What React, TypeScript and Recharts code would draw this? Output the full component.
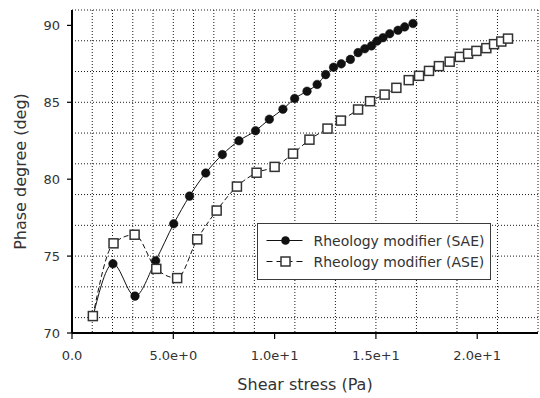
import React from "react";
import {
  LineChart,
  Line,
  XAxis,
  YAxis,
  CartesianGrid,
} from "recharts";

// Series: Rheology modifier (SAE)
const saeX = [1.04, 2.02, 3.11, 4.13, 5.02, 5.8, 6.6, 7.42, 8.24, 9.06, 9.74, 10.41, 10.99, 11.6, 12.1, 12.52, 12.91, 13.29, 13.74, 14.12, 14.45, 14.78, 15.06, 15.35, 15.68, 16.09, 16.42, 16.83];
const saeY = [71.1, 74.5, 72.4, 74.7, 77.1, 78.9, 80.4, 81.6, 82.5, 83.15, 83.9, 84.55, 85.25, 85.72, 86.16, 86.8, 87.28, 87.5, 87.79, 88.23, 88.48, 88.67, 88.98, 89.2, 89.46, 89.68, 89.9, 90.12];

// Series: Rheology modifier (ASE)
const aseX = [1.03, 2.05, 3.09, 4.16, 5.19, 6.18, 7.14, 8.14, 9.11, 10.0, 10.91, 11.72, 12.61, 13.27, 14.12, 14.71, 15.43, 16.01, 16.62, 17.13, 17.62, 18.11, 18.64, 19.14, 19.55, 19.96, 20.45, 20.83, 21.19, 21.52];
const aseY = [71.1, 75.83, 76.39, 74.17, 73.57, 76.09, 77.96, 79.52, 80.42, 80.8, 81.66, 82.57, 83.29, 83.81, 84.53, 85.07, 85.5, 85.94, 86.44, 86.72, 87.04, 87.35, 87.64, 87.95, 88.16, 88.34, 88.52, 88.78, 88.95, 89.14];

const seriesNames = ["Rheology modifier (SAE)", "Rheology modifier (ASE)"];

// Axis ticks
const xMajorTicks = [0, 5, 10, 15, 20];
const xMajorLabels = ["0.0", "5.0e+0", "1.0e+1", "1.5e+1", "2.0e+1"];
const yMajorTicks = [70, 75, 80, 85, 90];
const xGridTicks = [0, 1, 2, 3, 4, 5, 6, 7, 8, 9, 10, 11, 12, 13, 14, 15, 16, 17, 18, 19, 20, 21, 22, 23];
const yGridTicks = [70, 71, 72, 73, 74, 75, 76, 77, 78, 79, 80, 81, 82, 83, 84, 85, 86, 87, 88, 89, 90, 91];
const xDomain: [number, number] = [0, 23];
const yDomain: [number, number] = [70, 91];

const saeData = saeX.map((x, i) => ({ x, y: saeY[i] }));
const aseData = aseX.map((x, i) => ({ x, y: aseY[i] }));

const FONT = "'DejaVu Sans', Verdana, sans-serif";
const TEXT = "#333";

const SquareDot = (props: any) => {
  const { cx, cy } = props;
  if (cx == null || cy == null) return null;
  const s = 9;
  return (
    <rect
      x={cx - s / 2}
      y={cy - s / 2}
      width={s}
      height={s}
      fill="#fff"
      stroke="#333"
      strokeWidth={1.5}
    />
  );
};

const CircleDot = (props: any) => {
  const { cx, cy } = props;
  if (cx == null || cy == null) return null;
  return <circle cx={cx} cy={cy} r={4.3} fill="#111" stroke="#111" strokeWidth={0.5} />;
};

const LegendBox = () => (
  <div
    style={{
      position: "absolute",
      left: 257,
      top: 223,
      width: 234,
      height: 57,
      boxSizing: "border-box",
      border: "1.7px solid #3a3a3a",
      background: "#fff",
    }}
  >
    <svg width={231} height={54} style={{ display: "block" }}>
      <g transform="translate(-1.5,-1.5)">
        <line x1={10} x2={46} y1={18} y2={18} stroke="#111" strokeWidth={1.2} />
        <circle cx={29} cy={18} r={4.3} fill="#111" />
        <text x={57} y={18} dy="0.36em" fontFamily={FONT} fontSize={14} fill={TEXT}>
          {seriesNames[0]}
        </text>
        <line x1={10} x2={46} y1={39} y2={39} stroke="#111" strokeWidth={1.2} strokeDasharray="6 4" />
        <rect x={24.5} y={34.5} width={9} height={9} fill="#fff" stroke="#333" strokeWidth={1.5} />
        <text x={57} y={39} dy="0.36em" fontFamily={FONT} fontSize={14} fill={TEXT}>
          {seriesNames[1]}
        </text>
      </g>
    </svg>
  </div>
);

export default function App() {
  return (
    <div style={{ position: "absolute", left: 0, top: 0, width: 540, height: 398, background: "#fff" }}>
      <LineChart
        width={540}
        height={398}
        margin={{ top: 10, right: 2, bottom: 0, left: 0 }}
        style={{ fontFamily: FONT }}
      >
        <XAxis xAxisId="grid" type="number" dataKey="x" domain={xDomain} ticks={xGridTicks} hide allowDataOverflow />
        <YAxis yAxisId="grid" type="number" domain={yDomain} ticks={yGridTicks} hide allowDataOverflow />
        <CartesianGrid
          xAxisId="grid"
          yAxisId="grid"
          stroke="#1a1a1a"
          strokeDasharray="1 2"
          strokeWidth={1}
        />
        <XAxis
          type="number"
          dataKey="x"
          domain={xDomain}
          ticks={xMajorTicks}
          tickFormatter={(v: number) => xMajorLabels[xMajorTicks.indexOf(v)] ?? ""}
          height={65}
          tickSize={6}
          tickMargin={12}
          axisLine={{ stroke: "#000", strokeWidth: 2 }}
          tickLine={{ stroke: "#000", strokeWidth: 1.2 }}
          tick={{ fill: TEXT, fontSize: 13, fontFamily: FONT }}
          allowDataOverflow
          label={{
            value: "Shear stress (Pa)",
            position: "insideBottom",
            offset: 8,
            fill: TEXT,
            fontSize: 16,
            fontFamily: FONT,
          }}
        />
        <YAxis
          type="number"
          domain={yDomain}
          ticks={yMajorTicks}
          width={72}
          tickSize={5}
          tickMargin={7}
          axisLine={{ stroke: "#000", strokeWidth: 2 }}
          tickLine={{ stroke: "#000", strokeWidth: 1.2 }}
          tick={{ fill: TEXT, fontSize: 13, fontFamily: FONT }}
          allowDataOverflow
          label={{
            value: "Phase degree (deg)",
            angle: -90,
            position: "insideLeft",
            offset: 20,
            fill: TEXT,
            fontSize: 16,
            fontFamily: FONT,
            style: { textAnchor: "middle" },
          }}
        />
        <XAxis
          xAxisId="top"
          orientation="top"
          type="number"
          dataKey="x"
          domain={xDomain}
          height={0}
          tick={false}
          tickLine={false}
          axisLine={{ stroke: "#000", strokeWidth: 2 }}
          allowDataOverflow
        />
        <YAxis
          yAxisId="right"
          orientation="right"
          type="number"
          domain={yDomain}
          width={0}
          tick={false}
          tickLine={false}
          axisLine={{ stroke: "#000", strokeWidth: 2 }}
          allowDataOverflow
        />
        <Line
          data={saeData}
          dataKey="y"
          name={seriesNames[0]}
          type="monotone"
          stroke="#111"
          strokeWidth={1}
          dot={<CircleDot />}
          activeDot={false}
          isAnimationActive={false}
        />
        <Line
          data={aseData}
          dataKey="y"
          name={seriesNames[1]}
          type="monotone"
          stroke="#111"
          strokeWidth={1}
          strokeDasharray="5 3"
          dot={<SquareDot />}
          activeDot={false}
          isAnimationActive={false}
        />
      </LineChart>
      <LegendBox />
    </div>
  );
}
